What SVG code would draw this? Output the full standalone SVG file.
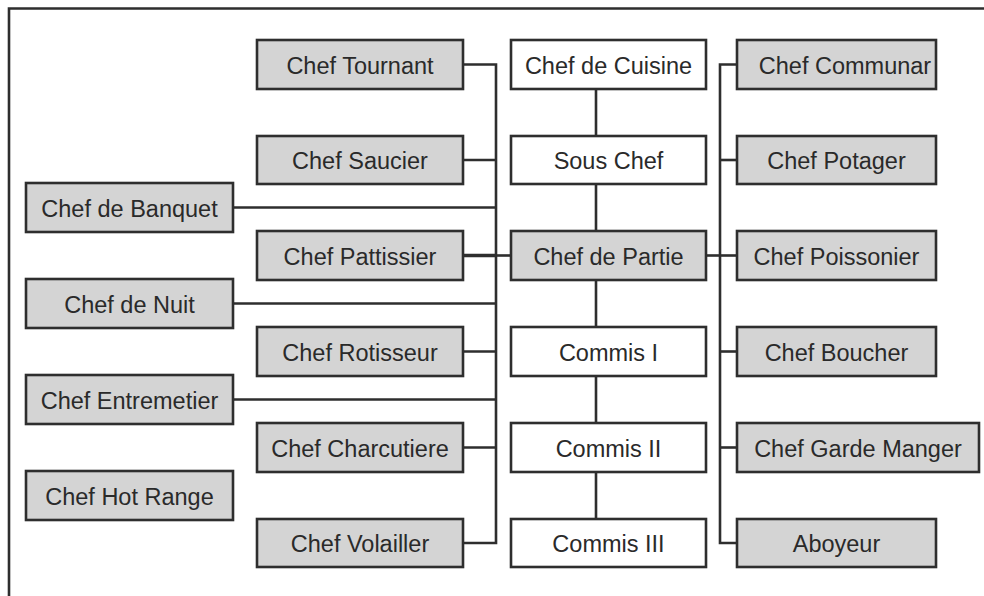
<svg xmlns="http://www.w3.org/2000/svg" width="984" height="596" viewBox="0 0 984 596">
  <style>
    .box rect { stroke: #2e2e2e; stroke-width: 2.6; }
    .grey rect { fill: #d4d4d4; }
    .white rect { fill: #ffffff; }
    .box text { font-family: "Liberation Sans", Arial, sans-serif; font-size: 23.5px; fill: #2a2a2a; text-anchor: middle; }
    .wire { stroke: #2e2e2e; stroke-width: 2.6; fill: none; }
    .frame { stroke: #2e2e2e; stroke-width: 2.6; fill: none; }
  </style>
  <rect x="0" y="0" width="984" height="596" fill="#ffffff"/>
  <!-- page frame: top and left edges only -->
  <path class="frame" d="M9 596 V8.5 H984"/>

  <g id="connectors">
    <!-- left bus -->
    <path class="wire" d="M463 64.5 H496 V543 H463"/>
    <path class="wire" d="M463 160 H496"/>
    <path class="wire" d="M233 207.5 H496"/>
    <path class="wire" d="M233 303.5 H496"/>
    <path class="wire" d="M463 351.5 H496"/>
    <path class="wire" d="M233 399.5 H496"/>
    <path class="wire" d="M463 447.5 H496"/>
    <path class="wire" d="M463 255.5 H496" style="stroke-width:3.6"/>
    <path class="wire" d="M496 255.5 H511"/>
    <!-- centre chain -->
    <path class="wire" d="M596 89 V136"/>
    <path class="wire" d="M596 184 V231"/>
    <path class="wire" d="M596 280 V327"/>
    <path class="wire" d="M596 376 V423"/>
    <path class="wire" d="M596 472 V519"/>
    <!-- right bus -->
    <path class="wire" d="M737 64.5 H720 V543 H737"/>
    <path class="wire" d="M720 160 H737"/>
    <path class="wire" d="M706 255.5 H737"/>
    <path class="wire" d="M720 351.5 H737"/>
    <path class="wire" d="M720 447.5 H737"/>
  </g>

  <!-- left inner column -->
  <g id="chef-tournant" class="box grey"><rect x="257" y="40" width="206" height="49"/><text x="360" y="73.5">Chef Tournant</text></g>
  <g id="chef-saucier" class="box grey"><rect x="257" y="136" width="206" height="48"/><text x="360" y="169">Chef Saucier</text></g>
  <g id="chef-pattissier" class="box grey"><rect x="257" y="231" width="206" height="49"/><text x="360" y="264.5">Chef Pattissier</text></g>
  <g id="chef-rotisseur" class="box grey"><rect x="257" y="327" width="206" height="49"/><text x="360" y="360.5">Chef Rotisseur</text></g>
  <g id="chef-charcutiere" class="box grey"><rect x="257" y="423" width="206" height="49"/><text x="360" y="456.5">Chef Charcutiere</text></g>
  <g id="chef-volailler" class="box grey"><rect x="257" y="519" width="206" height="48"/><text x="360" y="552">Chef Volailler</text></g>

  <!-- left outer column -->
  <g id="chef-de-banquet" class="box grey"><rect x="26" y="183" width="207" height="49"/><text x="129.5" y="216.5">Chef de Banquet</text></g>
  <g id="chef-de-nuit" class="box grey"><rect x="26" y="279" width="207" height="49"/><text x="129.5" y="312.5">Chef de Nuit</text></g>
  <g id="chef-entremetier" class="box grey"><rect x="26" y="375" width="207" height="49"/><text x="129.5" y="408.5">Chef Entremetier</text></g>
  <g id="chef-hot-range" class="box grey"><rect x="26" y="471" width="207" height="49"/><text x="129.5" y="504.5">Chef Hot Range</text></g>

  <!-- centre column -->
  <g id="chef-de-cuisine" class="box white"><rect x="511" y="40" width="195" height="49"/><text x="608.5" y="73.5">Chef de Cuisine</text></g>
  <g id="sous-chef" class="box white"><rect x="511" y="136" width="195" height="48"/><text x="608.5" y="169">Sous Chef</text></g>
  <g id="chef-de-partie" class="box grey"><rect x="511" y="231" width="195" height="49"/><text x="608.5" y="264.5">Chef de Partie</text></g>
  <g id="commis-1" class="box white"><rect x="511" y="327" width="195" height="49"/><text x="608.5" y="360.5">Commis I</text></g>
  <g id="commis-2" class="box white"><rect x="511" y="423" width="195" height="49"/><text x="608.5" y="456.5">Commis II</text></g>
  <g id="commis-3" class="box white"><rect x="511" y="519" width="195" height="48"/><text x="608.5" y="552">Commis III</text></g>

  <!-- right column -->
  <g id="chef-communar" class="box grey"><rect x="737" y="40" width="199" height="49"/><text x="845" y="73.5">Chef Communar</text></g>
  <g id="chef-potager" class="box grey"><rect x="737" y="136" width="199" height="48"/><text x="836.5" y="169">Chef Potager</text></g>
  <g id="chef-poissonier" class="box grey"><rect x="737" y="231" width="199" height="49"/><text x="836.5" y="264.5">Chef Poissonier</text></g>
  <g id="chef-boucher" class="box grey"><rect x="737" y="327" width="199" height="49"/><text x="836.5" y="360.5">Chef Boucher</text></g>
  <g id="chef-garde-manger" class="box grey"><rect x="737" y="423" width="242" height="49"/><text x="858" y="456.5">Chef Garde Manger</text></g>
  <g id="aboyeur" class="box grey"><rect x="737" y="519" width="199" height="48"/><text x="836.5" y="552">Aboyeur</text></g>
</svg>
